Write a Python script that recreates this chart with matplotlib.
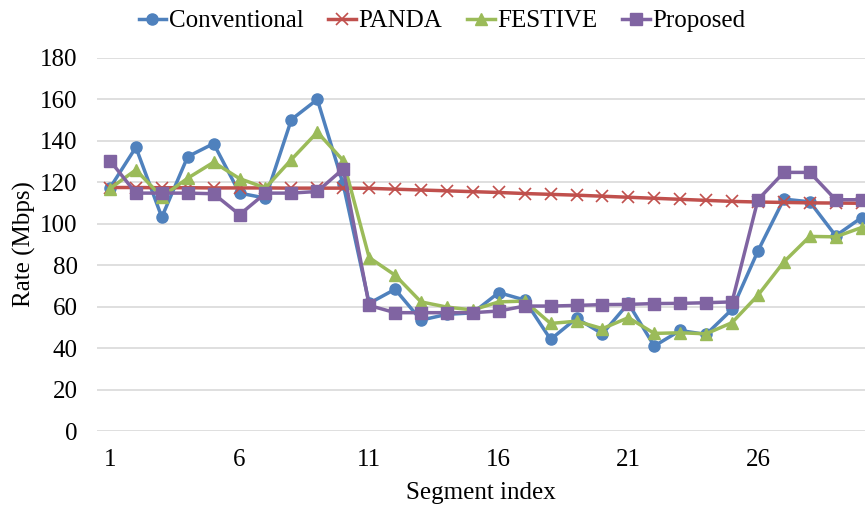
import matplotlib.pyplot as plt

plt.rcParams['font.family'] = ['Liberation Serif', 'DejaVu Serif']

# Segment indices and rate values (Mbps) for each scheme
segments = list(range(1, 31))
conventional = [117.3, 136.9, 103.2, 132.4, 138.7, 114.8, 112.4, 150.3, 160.0, 119.0,
                61.6, 68.4, 53.5, 56.3, 57.0, 66.8, 63.2, 44.2, 54.4, 46.9,
                61.6, 41.0, 48.5, 46.6, 58.7, 86.9, 111.9, 110.6, 94.2, 103.0]
panda = [117.5, 117.5, 117.4, 117.4, 117.3, 117.3, 117.3, 117.2, 117.2, 117.2,
         117.1, 116.7, 116.3, 115.9, 115.5, 115.1, 114.6, 114.2, 113.8, 113.3,
         112.8, 112.3, 111.8, 111.3, 110.8, 110.5, 110.3, 110.1, 110.0, 109.9]
festive = [117.0, 126.0, 113.0, 122.0, 129.7, 121.8, 117.3, 131.0, 144.2, 130.5,
           83.7, 75.2, 62.3, 59.8, 58.4, 62.3, 62.7, 51.9, 53.0, 49.4,
           54.7, 47.1, 47.4, 46.9, 52.3, 65.5, 81.6, 93.9, 93.7, 98.2]
proposed = [130.5, 114.8, 114.8, 114.8, 114.5, 104.4, 114.8, 114.8, 115.6, 126.5,
            60.6, 57.1, 57.1, 57.1, 57.1, 57.9, 60.3, 60.3, 60.6, 61.0,
            61.1, 61.5, 61.6, 61.9, 62.3, 111.6, 124.8, 124.8, 111.6, 111.6]

fig = plt.figure(figsize=(8.65, 5.07), dpi=100)
ax = fig.add_axes([97 / 865, 1 - 431 / 507, (865 - 97) / 865, (431 - 58) / 507])

ax.plot(segments, conventional, color='#4F81BD', marker='o', markersize=8, linewidth=2.5, label='Conventional')
ax.plot(segments, panda, color='#C0504D', marker='x', markersize=8, markeredgewidth=1.2, linewidth=2.5, label='PANDA')
ax.plot(segments, festive, color='#9BBB59', marker='^', markersize=9, linewidth=2.5, label='FESTIVE')
ax.plot(segments, proposed, color='#8064A2', marker='s', markersize=8, linewidth=2.5, label='Proposed')

ax.set_xlim(0.5, 30.13)
ax.set_ylim(0, 180)
ax.set_yticks(range(0, 181, 20))
ax.set_xticks([1, 6, 11, 16, 21, 26])
ax.tick_params(axis='both', length=0, labelsize=18)
ax.tick_params(axis='y', pad=14)
ax.tick_params(axis='x', pad=13)
ax.grid(axis='y', color='#d9d9d9', linewidth=1.2)
ax.set_axisbelow(True)
for s in ax.spines.values():
    s.set_visible(False)

ax.set_xlabel('Segment index', fontsize=18, labelpad=8)
ax.set_ylabel('Rate (Mbps)', fontsize=18, labelpad=3)

ax.legend(loc='center', bbox_to_anchor=(442 / 865, 1 - 21 / 507), bbox_transform=fig.transFigure,
          ncol=4, frameon=False, fontsize=18, handlelength=1.1, handletextpad=0.1,
          columnspacing=1.0, borderaxespad=0)

fig.savefig('out.png', dpi=100)
